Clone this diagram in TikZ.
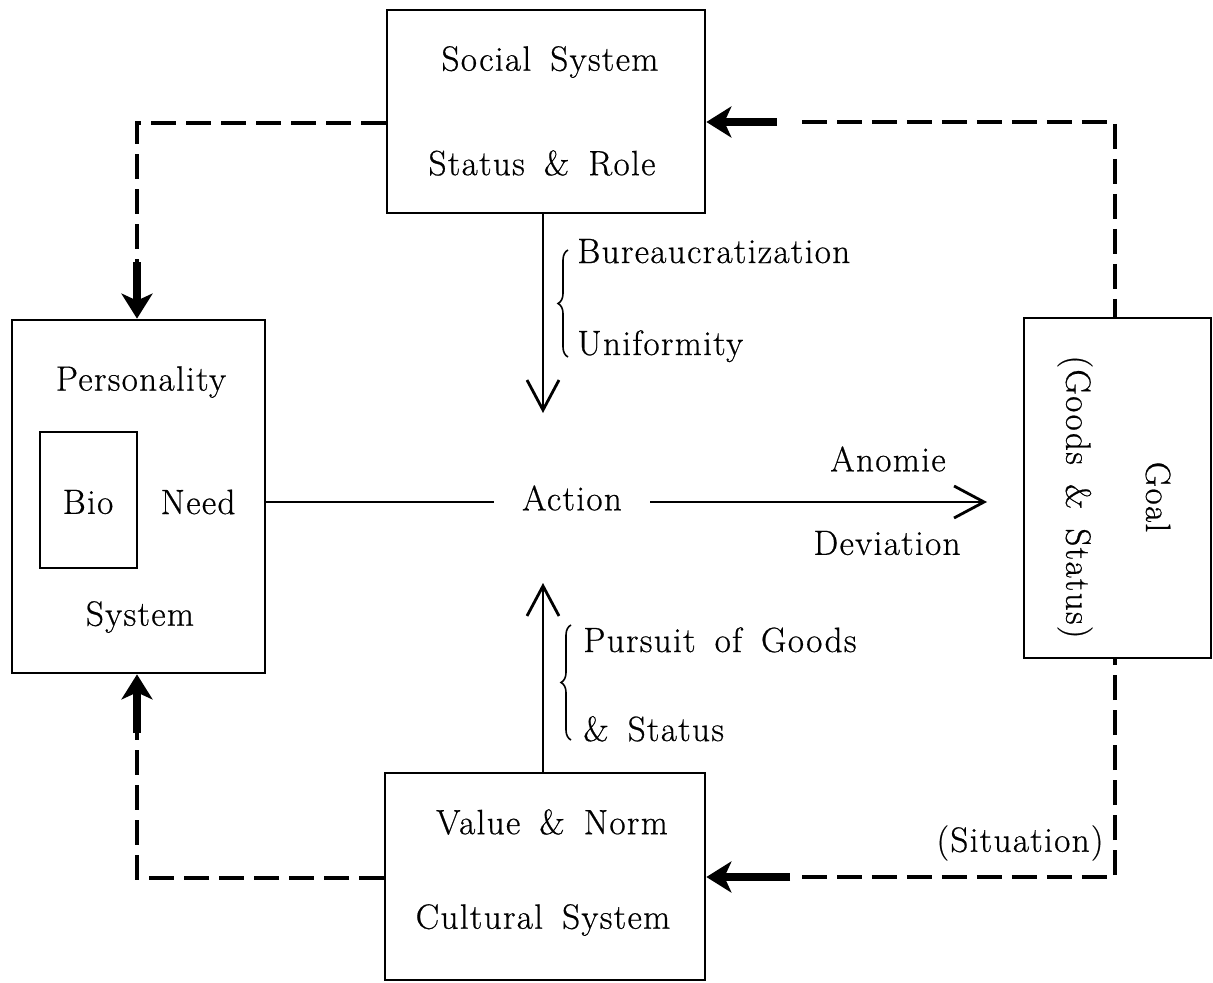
\documentclass[tikz,border=0pt]{standalone}
\usepackage{fontspec}
\usetikzlibrary{arrows.meta,decorations.pathreplacing}
\newfontfamily\spacedserif{Latin Modern Roman}[LetterSpace=3.8,WordSpace=1.6,FakeBold=0.6]
\newcommand{\labelfont}{\spacedserif\fontsize{20}{24}\selectfont}
\begin{document}
\begin{tikzpicture}[x=0.02cm,y=-0.02cm,
  every node/.style={font=\labelfont, inner sep=0pt},
  box/.style={draw, line width=1.6pt},
  flow/.style={line width=1.6pt},
  open/.style={flow, -{Straight Barb[length=0.6cm,width=0.64cm,line width=1.6pt]}},
  loopline/.style={line width=2.2pt, dash pattern=on 0.5cm off 0.2cm},
  heavy/.style={line width=4pt, -{Stealth[length=0.5cm,width=0.62cm,inset=0.14cm]}},
  bracket/.style={line width=0.9pt, decorate, decoration={brace, amplitude=0.2cm}},
]
\useasboundingbox (0,0) rectangle (1213,983);

% the four systems and the goal
\node[box, minimum width=6.36cm, minimum height=4.06cm] (social) at (546,111.5) {};
\node[box, minimum width=5.06cm, minimum height=7.06cm] (personality) at (138.5,496.5) {};
\node[box, minimum width=1.94cm, minimum height=2.72cm] (bio) at (88.5,500) {};
\node[box, minimum width=3.74cm, minimum height=6.8cm] (goal) at (1117.5,488) {};
\node[box, minimum width=6.4cm, minimum height=4.14cm] (cultural) at (545,876.5) {};

% box texts
\node (socialA) at (550,62) {Social System};
\node (socialB) at (542,163) {Status \& Role};
\node (persA) at (141,382) {Personality};
\node (bioT) at (88,502) {Bio};
\node (needT) at (198,502) {Need};
\node (persB) at (140,617) {System};
\node[rotate=-90] (goalA) at (1158,497) {Goal};
\node[rotate=-90] (goalB) at (1075,497) {(Goods \& Status)};
\node (cultA) at (552,822) {Value \& Norm};
\node (cultB) at (543,920) {Cultural System};

% action in the centre
\node[inner xsep=0.56cm] (action) at (572,498) {Action};
\node (anomie) at (888,459) {Anomie};
\node (deviation) at (887,543) {Deviation};
\node (situation) at (1020,843) {(Situation)};

% labels beside the vertical arrows
\node[anchor=base west] (bureau) at (577,263) {Bureaucratization};
\node[anchor=base west] (uniform) at (577,355) {Uniformity};
\node[anchor=base west] (pursuit) at (583,652) {Pursuit of Goods};
\node[anchor=base west] (andstatus) at (583,741) {\& Status};

% helper points
\coordinate (dtip) at (543,413);
\coordinate (utip) at (543,583);
\coordinate (aend) at (987,502);
\coordinate (tlc) at (137,123);
\coordinate (tls) at (137,262);
\coordinate (trc) at (1115,122);
\coordinate (trs) at (802,122);
\coordinate (trh) at (777,122);
\coordinate (brc) at (1115,877);
\coordinate (brs) at (802,877);
\coordinate (brh) at (790,877);
\coordinate (blc) at (137,878);
\coordinate (bls) at (137,733);
\coordinate (b1top) at (568,250);
\coordinate (b1bot) at (568,357);
\coordinate (b2top) at (571,625);
\coordinate (b2bot) at (571,740);

% solid arrows through Action
\draw[open] (dtip |- social.south) -- (dtip);
\draw[open] (utip |- cultural.north) -- (utip);
\draw[flow] (personality.east |- aend) -- (action.west |- aend);
\draw[open] (action.east |- aend) -- (aend);

% braces
\draw[bracket] (b1bot) -- (b1top);
\draw[bracket] (b2bot) -- (b2top);

% dashed feedback loops
\draw[loopline] (social.west |- tlc) -- (tlc) -- (tls);
\draw[heavy] (tls) -- (personality.north -| tls);
\draw[loopline] (trs) -- (trc) -- (goal.north -| trc);
\draw[heavy] (trh) -- (social.east |- trh);
\draw[loopline] (brs) -- (brc) -- (goal.south -| brc);
\draw[heavy] (brh) -- (cultural.east |- brh);
\draw[loopline] (cultural.west |- blc) -- (blc) -- (bls);
\draw[heavy] (bls) -- (personality.south -| bls);
\end{tikzpicture}
\end{document}
